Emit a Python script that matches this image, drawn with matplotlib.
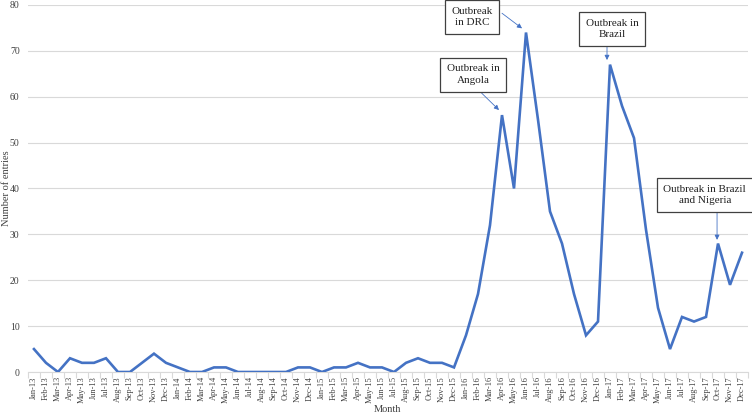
import matplotlib
matplotlib.use('Agg')
import matplotlib.pyplot as plt
import numpy as np

plt.rcParams.update({
    'font.family': 'serif',
    'font.serif': ['Liberation Serif', 'DejaVu Serif'],
})

# Monthly entries, Jan-13 .. Dec-17
years = ['13', '14', '15', '16', '17']
month_names = ['Jan', 'Feb', 'Mar', 'Apr', 'May', 'Jun',
               'Jul', 'Aug', 'Sep', 'Oct', 'Nov', 'Dec']
months = [f'{m}-{y}' for y in years for m in month_names]

entries = [
    5, 2, 0, 3, 2, 2, 3, 0, 0, 2, 4, 2,          # 2013
    1, 0, 0, 1, 1, 0, 0, 0, 0, 0, 1, 1,          # 2014
    0, 1, 1, 2, 1, 1, 0, 2, 3, 2, 2, 1,          # 2015
    8, 17, 32, 56, 40, 74, 55, 35, 28, 17, 8, 11,  # 2016
    67, 58, 51, 31, 14, 5, 12, 11, 12, 28, 19, 26,  # 2017
]

# annotations: label, box centre (x idx, y), arrow start, arrow tip
notes = [
    ('Outbreak in\nAngola', (36.6, 64.8), (37.3, 60.8), (38.75, 57.1)),
    ('Outbreak\nin DRC', (36.5, 77.4), (39.0, 78.2), (40.67, 74.9)),
    ('Outbreak in\nBrazil', (48.2, 74.8), (47.75, 71.5), (47.75, 68.0)),
    ('Outbreak in Brazil\nand Nigeria', (55.9, 38.6), (56.92, 35.1), (56.92, 28.8)),
]

blue = '#4472C4'
grid_c = '#D9D9D9'
text_c = '#404040'

fig = plt.figure(figsize=(7.52, 4.15), dpi=100)
ax = fig.add_axes([0.0372, 0.1036, 0.9575, 0.8844])

x = np.arange(len(months))
ax.plot(x, entries, color=blue, linewidth=1.9, solid_joinstyle='miter', zorder=3)

ax.set_xlim(-0.5, len(months) - 0.5)
ax.set_ylim(0, 80)
ax.set_yticks(range(0, 81, 10))
ax.yaxis.grid(True, color=grid_c, linewidth=0.8)
ax.set_axisbelow(True)
ax.tick_params(axis='y', length=0, labelsize=7, colors=text_c, pad=6)

ax.set_xticks(x)
ax.set_xticklabels(months, rotation=90, fontsize=6, color=text_c)
ax.set_xticks(np.arange(-0.5, len(months), 1), minor=True)
ax.tick_params(axis='x', which='major', length=0, pad=3)
ax.tick_params(axis='x', which='minor', length=4, color=grid_c, width=0.8)

for side in ['top', 'right', 'left']:
    ax.spines[side].set_visible(False)
ax.spines['bottom'].set_color(grid_c)
ax.spines['bottom'].set_linewidth(0.8)

ax.set_xlabel('Month', fontsize=7.5, color=text_c)
ax.set_ylabel('Number of entries', fontsize=7.5, color=text_c)
ax.xaxis.set_label_coords(0.5, -0.09)
ax.yaxis.set_label_coords(-0.0236, 0.5)

for label, centre, start, tip in notes:
    ax.text(centre[0], centre[1], label, ha='center', va='center',
            fontsize=8, color='#222222', linespacing=1.35, zorder=5,
            bbox=dict(boxstyle='square,pad=0.6', facecolor='white',
                      edgecolor='#404040', linewidth=0.9))
    ax.annotate('', xy=tip, xytext=start, zorder=4,
                arrowprops=dict(arrowstyle='-|>', color=blue, lw=0.6,
                                mutation_scale=7, shrinkA=0, shrinkB=0))

fig.savefig('out.png', dpi=100)
